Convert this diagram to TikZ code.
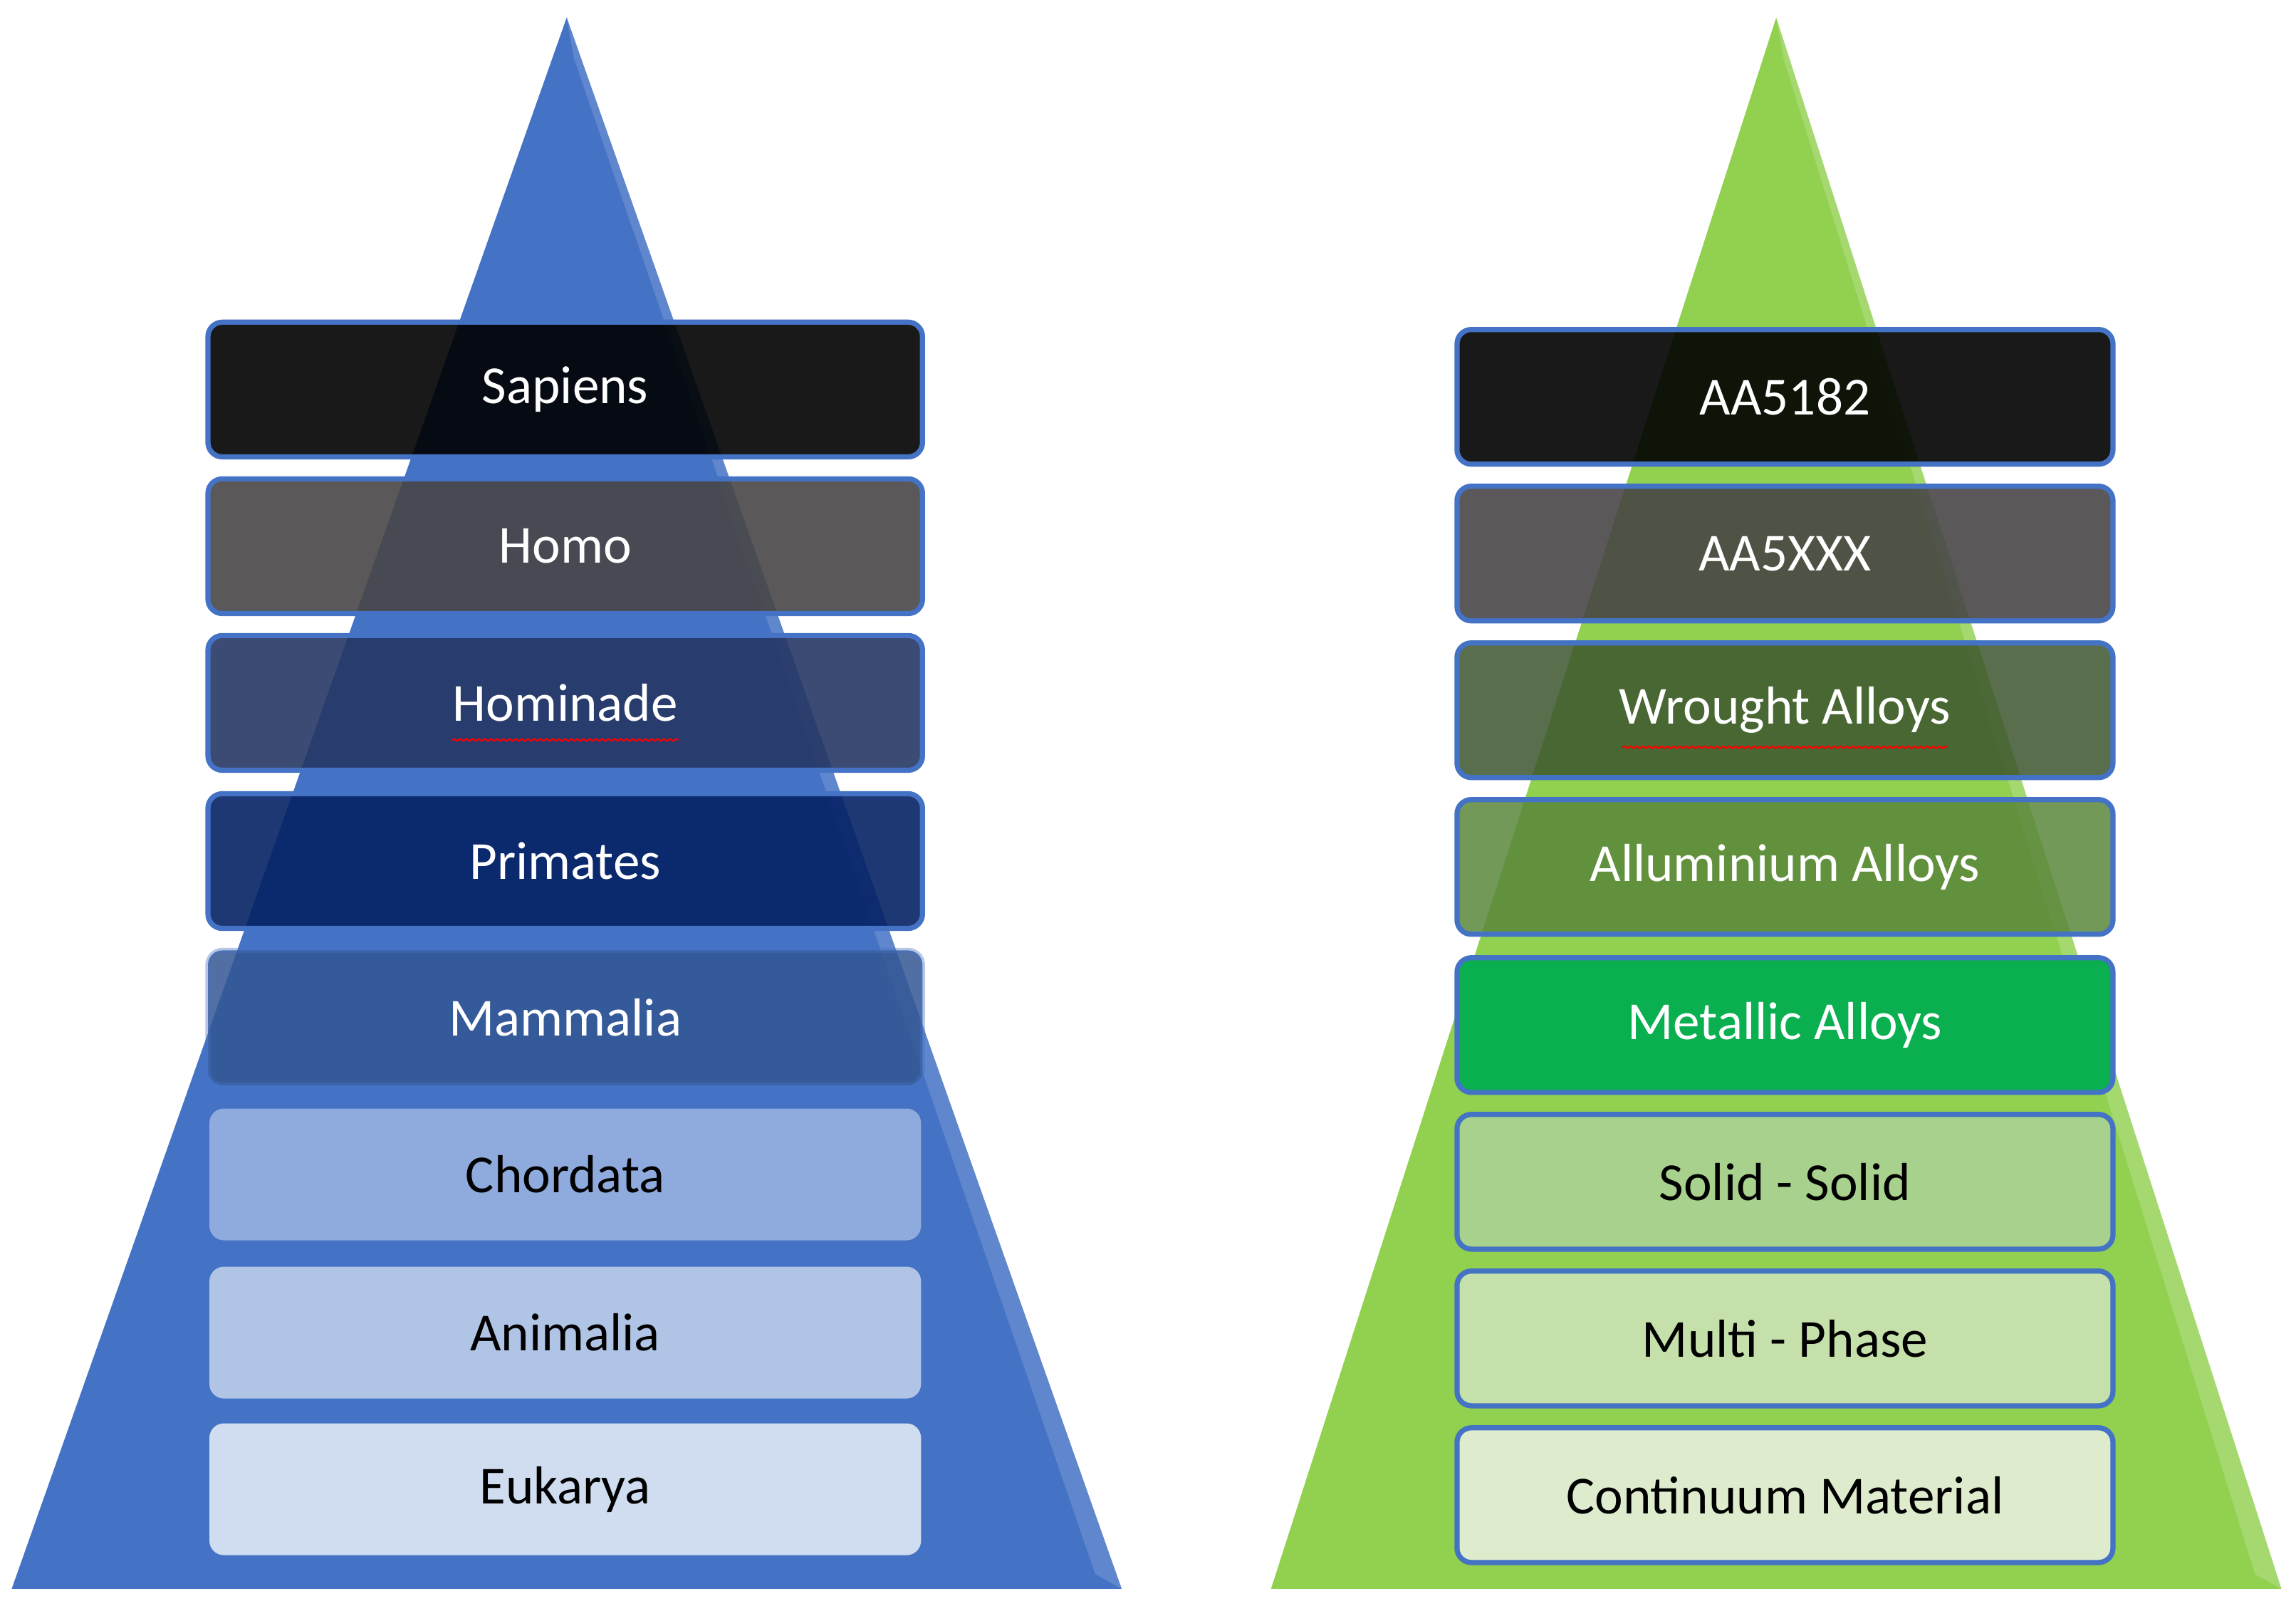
\documentclass[tikz,border=0pt]{standalone}
\usepackage{fontspec}
\setmainfont{Carlito}
\usetikzlibrary{decorations.pathmorphing}
\definecolor{pyrblue}{HTML}{4472C4}
\definecolor{pyrgreen}{HTML}{92D050}
\definecolor{edgeblue}{HTML}{4472C4}
\tikzset{
  level/.style={rounded corners=14pt, minimum width=24.4cm, minimum height=4.6cm,
    font=\fontsize{52}{60}\selectfont, inner sep=0pt},
  framed/.style={level, draw=edgeblue, line width=5pt},
  plain/.style={level, minimum width=24.3cm, minimum height=4.5cm},
  squiggle/.style={red, line width=1.5pt, decorate, decoration={snake, amplitude=1pt, segment length=6pt}}
}
\begin{document}
\begin{tikzpicture}[x=0.05cm, y=-0.05cm]
  \useasboundingbox (0,0) rectangle (1568,1100);
  % left pyramid
    \fill[pyrblue] (387,12) -- (766,1085) -- (8,1085) -- cycle;
    \fill[pyrblue!75!white, opacity=0.6] (387,12) -- (766,1085) -- (748,1075) -- (392,40) -- cycle;
  % right pyramid
    \fill[pyrgreen] (1213,12) -- (1558,1085) -- (868,1085) -- cycle;
    \fill[pyrgreen!70!white, opacity=0.6] (1213,12) -- (1558,1085) -- (1540,1075) -- (1218,40) -- cycle;
  % left levels
    \node[framed, fill=black, fill opacity=0.9, text opacity=1, text=white] (s1) at (386,266) {Sapiens};
    \node[framed, fill={rgb,255:red,72;green,70;blue,70}, fill opacity=0.9, text opacity=1, text=white] (s2) at (386,373) {Homo};
    \node[framed, fill={rgb,255:red,38;green,55;blue,100}, fill opacity=0.9, text opacity=1, text=white] (s3) at (386,480) {Hominade};
    \node[framed, fill={rgb,255:red,5;green,34;blue,100}, fill opacity=0.9, text opacity=1, text=white] (s4) at (386,588) {Primates};
    \node[framed, draw opacity=0.4, fill=pyrblue!75!black, fill opacity=0.85, text opacity=1, text=white] (s5) at (386,695) {Mammalia};
    \node[plain, fill=pyrblue!60!white] (s6) at (386,802) {Chordata};
    \node[plain, fill=pyrblue!42!white] (s7) at (386,910) {Animalia};
    \node[plain, fill=pyrblue!25!white] (s8) at (386,1017) {Eukarya};
    \draw[squiggle] ([xshift=-110pt,yshift=-36pt]s3.center) -- ([xshift=110pt,yshift=-36pt]s3.center);
  % right levels
    \tikzset{level/.append style={minimum width=22.4cm}}
    \node[framed, fill=black, fill opacity=0.9, text opacity=1, text=white] (m1) at (1219,271) {AA5182};
    \node[framed, fill={rgb,255:red,72;green,70;blue,70}, fill opacity=0.9, text opacity=1, text=white] (m2) at (1219,378) {AA5XXX};
    \node[framed, fill={rgb,255:red,60;green,85;blue,45}, fill opacity=0.85, text opacity=1, text=white] (m3) at (1219,485) {Wrought Alloys};
    \node[framed, fill={rgb,255:red,90;green,135;blue,60}, fill opacity=0.85, text opacity=1, text=white] (m4) at (1219,592) {Alluminium Alloys};
    \node[framed, fill={rgb,255:red,10;green,176;blue,80}, text=white] (m5) at (1219,700) {Metallic Alloys};
    \node[framed, fill={rgb,255:red,169;green,209;blue,142}] (m6) at (1219,807) {Solid - Solid};
    \node[framed, fill={rgb,255:red,197;green,224;blue,170}] (m7) at (1219,914) {Multi - Phase};
    \node[framed, fill={rgb,255:red,222;green,236;blue,205}] (m8) at (1219,1021) {Continuum Material};
    \draw[squiggle] ([xshift=-158pt,yshift=-36pt]m3.center) -- ([xshift=158pt,yshift=-36pt]m3.center);
\end{tikzpicture}
\end{document}
